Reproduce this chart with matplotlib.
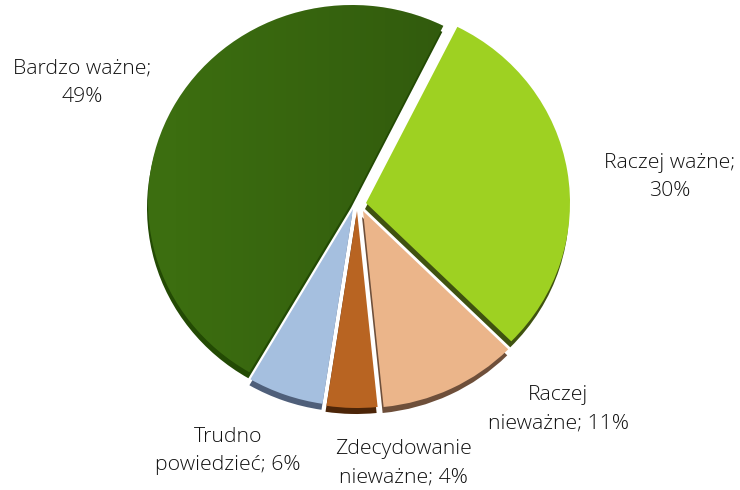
import numpy as np
import matplotlib
matplotlib.use("Agg")
import matplotlib.pyplot as plt

labels = ["Raczej ważne;\n30%", "Raczej\nnieważne; 11%", "Zdecydowanie\nnieważne; 4%",
          "Trudno\npowiedzieć; 6%", "Bardzo ważne;\n49%"]
values = [30, 11, 4, 6, 49]
colors = ["#9ed122", "#ebb58a", "#b86422", "#a5bfdf", "#3c6e10"]
side_colors = ["#3f5210", "#6e4f3a", "#4c2508", "#4f5f7a", "#234a04"]
slice_shift_px = [(8, -1), (5, 7), (-1, 7), (-5, 5), (-6, -2)]
label_px = [(670, 177), (558, 409), (403, 463), (228, 451), (82, 83)]

W, H = 740, 490
CX, CY, RX, RY = 358, 204, 204, 197
SIDE_DX, SIDE_DY = -1, 6

fig = plt.figure(figsize=(W / 100, H / 100), dpi=100)
ax = fig.add_axes([0, 0, 1, 1])
start = 90 - 26.6
side, _ = ax.pie(values, colors=side_colors, startangle=start, counterclock=False,
                 wedgeprops=dict(linewidth=0))
wedges, _ = ax.pie(values, colors=colors, startangle=start, counterclock=False,
                   wedgeprops=dict(linewidth=0))
for s, w, (dx, dy) in zip(side, wedges, slice_shift_px):
    w.set_center((dx / RX, -dy / RY))
    s.set_center(((dx + SIDE_DX) / RX, -(dy + SIDE_DY) / RY))

# soft lighting across the largest slice
grad = np.linspace(0, 1, 256).reshape(1, -1)
rgba = np.zeros((1, 256, 4))
rgba[..., 3] = np.clip((grad - 0.1) * 0.22, 0, 1)
im = ax.imshow(rgba, extent=(-1.1, 0.6, -1.1, 1.1), aspect="auto", zorder=3)
im.set_clip_path(wedges[4])

ax.set_aspect("auto")
ax.set_xlim(-CX / RX, (W - CX) / RX)
ax.set_ylim(-(H - CY) / RY, CY / RY)
ax.axis("off")

for text, (px, py) in zip(labels, label_px):
    ax.text(px / W, 1 - py / H, text, transform=fig.transFigure, ha="center", va="center",
            fontsize=15.3, family="Open Sans", fontweight="light", color="#111111",
            linespacing=1.55, zorder=5)

fig.savefig("out.png", dpi=100, facecolor="white")
